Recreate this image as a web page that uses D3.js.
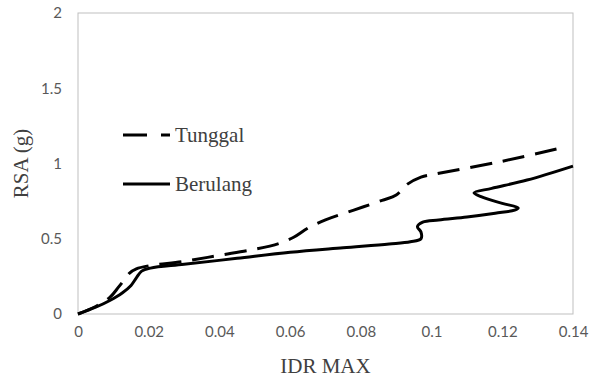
<!doctype html>
<html>
<head>
<meta charset="UTF-8">
<title>RSA vs IDR MAX</title>
<script src="https://cdn.jsdelivr.net/npm/d3@7"></script>
<style>
  body { margin: 0; background: #fff; }
  .tick text { font-family: Lato, "Liberation Sans", sans-serif; font-size: 15px; fill: #595959; }
  .title { font-family: "Liberation Serif", "Times New Roman", serif; font-size: 21px; fill: #404040; }
</style>
</head>
<body>
<svg id="chart" width="591" height="378"></svg>
<script>
// data: [IDR MAX, RSA (g)]
var tunggal = [
  [0, 0], [0.005, 0.05], [0.009, 0.11], [0.0115, 0.18], [0.0135, 0.24], [0.0145, 0.27],
  [0.0165, 0.30], [0.02, 0.32], [0.03, 0.35], [0.04, 0.39], [0.05, 0.43],
  [0.057, 0.47], [0.061, 0.51], [0.065, 0.57], [0.07, 0.625], [0.078, 0.69],
  [0.086, 0.755], [0.09, 0.79], [0.093, 0.86], [0.097, 0.91], [0.101, 0.93],
  [0.12, 1.015], [0.137, 1.105]
];
var berulang = [
  [0, 0], [0.005, 0.045], [0.009, 0.09], [0.0125, 0.14], [0.015, 0.19], [0.0165, 0.24],
  [0.018, 0.285], [0.0205, 0.305], [0.03, 0.33], [0.045, 0.37], [0.06, 0.41],
  [0.075, 0.44], [0.088, 0.465], [0.094, 0.48], [0.097, 0.50], [0.097, 0.545],
  [0.096, 0.58], [0.0975, 0.61], [0.102, 0.625], [0.11, 0.645], [0.118, 0.67],
  [0.1235, 0.69], [0.1245, 0.705], [0.12, 0.735], [0.114, 0.78], [0.112, 0.805],
  [0.117, 0.835], [0.127, 0.89], [0.14, 0.983]
];
var xTicks = [0, 0.02, 0.04, 0.06, 0.08, 0.1, 0.12, 0.14];
var yTicks = [0, 0.5, 1, 1.5, 2];
var seriesNames = ["Tunggal", "Berulang"];

var svg = d3.select("#chart"),
    plotLeft = 78, plotRight = 573, plotTop = 13, plotBottom = 314;

var x = d3.scaleLinear().domain([0, 0.14]).range([plotLeft, plotRight]);
var y = d3.scaleLinear().domain([0, 2]).range([plotBottom, plotTop]);

// plot frame
svg.append("rect")
    .attr("x", plotLeft).attr("y", plotTop)
    .attr("width", plotRight - plotLeft).attr("height", plotBottom - plotTop)
    .attr("fill", "none").attr("stroke", "#bfbfbf").attr("stroke-width", 1);

var xAxis = svg.append("g")
    .attr("transform", "translate(0," + plotBottom + ")")
    .call(d3.axisBottom(x).tickValues(xTicks).tickSize(0).tickPadding(12)
        .tickFormat(function(d) { return String(+d.toFixed(2)); }));
xAxis.select(".domain").remove();

var yAxis = svg.append("g")
    .attr("transform", "translate(" + plotLeft + ",0)")
    .call(d3.axisLeft(y).tickValues(yTicks).tickSize(0).tickPadding(16)
        .tickFormat(function(d) { return String(d); }));
yAxis.select(".domain").remove();

svg.append("text").attr("class", "title")
    .attr("x", (plotLeft + plotRight) / 2).attr("y", 373)
    .attr("text-anchor", "middle").text("IDR MAX");

svg.append("text").attr("class", "title")
    .attr("transform", "translate(28," + (plotTop + plotBottom) / 2 + ") rotate(-90)")
    .attr("text-anchor", "middle").text("RSA (g)");

var line = d3.line()
    .x(function(d) { return x(d[0]); })
    .y(function(d) { return y(d[1]); })
    .curve(d3.curveCatmullRom.alpha(0.5));

svg.append("path").datum(berulang)
    .attr("d", line).attr("fill", "none")
    .attr("stroke", "#000").attr("stroke-width", 3);

svg.append("path").datum(tunggal)
    .attr("d", line).attr("fill", "none")
    .attr("stroke", "#000").attr("stroke-width", 3)
    .attr("stroke-dasharray", "22,11");

// legend
var legend = svg.selectAll(".legend")
    .data(seriesNames)
    .enter().append("g")
    .attr("class", "legend")
    .attr("transform", function(d, i) { return "translate(123," + (135 + i * 49) + ")"; });

legend.append("line")
    .attr("x1", 0).attr("x2", 47).attr("y1", 0).attr("y2", 0)
    .attr("stroke", "#000").attr("stroke-width", 3)
    .attr("stroke-dasharray", function(d, i) { return i === 0 ? "24,14" : null; });

legend.append("text").attr("class", "title")
    .attr("x", 52).attr("y", 7)
    .text(function(d) { return d; });
</script>
</body>
</html>
